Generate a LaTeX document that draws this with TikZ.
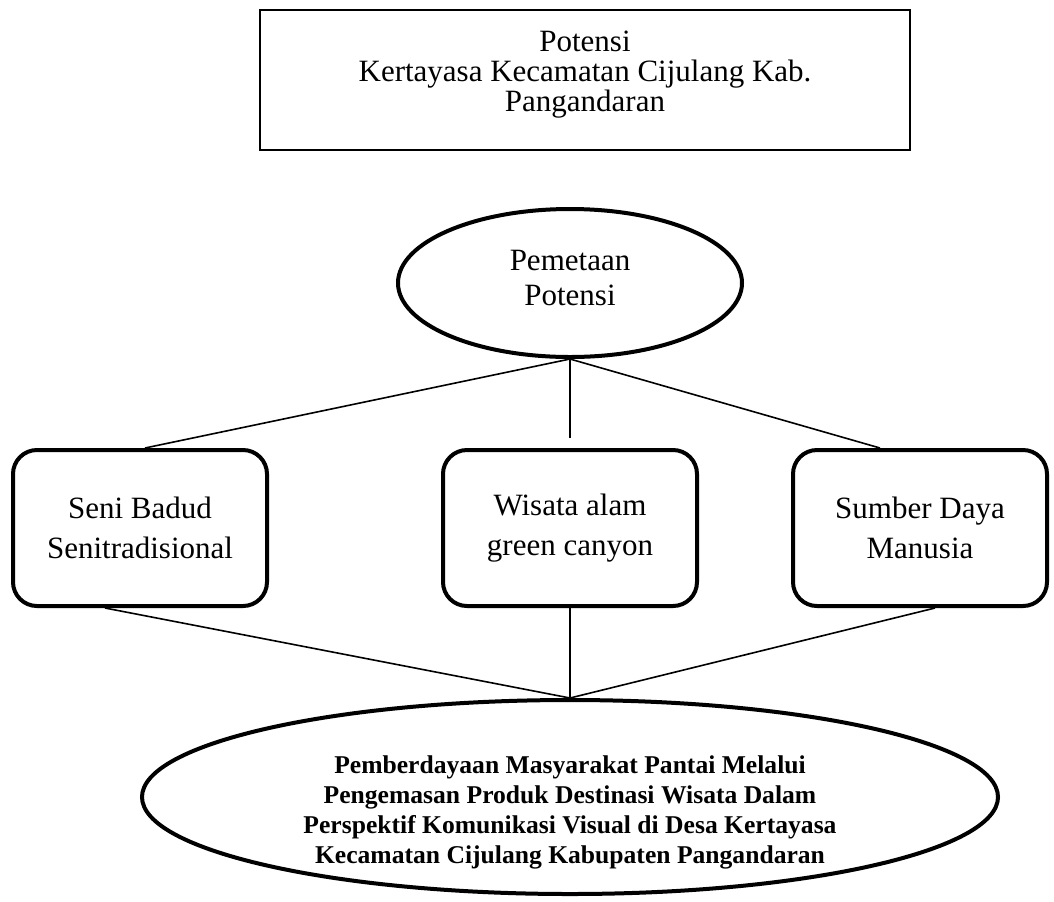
\documentclass[tikz,border=0pt]{standalone}
\usepackage{fontspec}
\setmainfont{Liberation Serif}
\usetikzlibrary{shapes.geometric,positioning}

\begin{document}
\begin{tikzpicture}[x=0.5pt,y=-0.5pt,
        txt/.style={align=center,font=\fontsize{15.5}{#1}\selectfont},
        topbox/.style={txt=15,draw,line width=0.6pt,minimum width=325pt,minimum height=70pt},
        oval/.style={ellipse,draw,line width=2pt,inner sep=0pt},
        itembox/.style={txt=20,draw,line width=2pt,rounded corners=12pt,minimum width=127pt,minimum height=78pt},
        link/.style={line width=0.8pt}]
    \useasboundingbox (0,0) rectangle (1054,901);
    % potensi
    \node[topbox] (potensi) at (585,80) {Potensi\\Kertayasa Kecamatan Cijulang Kab.\\Pangandaran\\[-6pt]\mbox{}};
    \node[oval,txt=17.5,minimum width=172pt,minimum height=74pt] (pemetaan) at (570,283) {Pemetaan\\Potensi\\[-12pt]\mbox{}};
    % three items
    \node[itembox] (seni) at (140,528) {Seni Badud\\Senitradisional};
    \node[itembox] (wisata) at (570,528) {Wisata alam\\green canyon};
    \node[itembox] (sdm) at (920,528) {Sumber Daya\\Manusia};
    \node[oval,minimum width=428pt,minimum height=97pt,
        label={[align=center,font=\fontsize{12.8}{15}\selectfont\bfseries,yshift=-7.5pt]center:{Pemberdayaan Masyarakat Pantai Melalui\\Pengemasan Produk Destinasi Wisata Dalam\\Perspektif Komunikasi Visual di Desa Kertayasa\\Kecamatan Cijulang Kabupaten Pangandaran}}] (hasil) at (570,797) {};
    \coordinate (gap) at (570,438);
    % connectors
    \draw[link] (pemetaan.south) -- ([xshift=2.5pt]seni.north);
    \draw[link] (pemetaan.south) -- (gap);
    \draw[link] (pemetaan.south) -- ([xshift=-20pt]sdm.north);
    \draw[link] ([xshift=-17.5pt]seni.south) -- (hasil.north);
    \draw[link] (wisata.south) -- (hasil.north);
    \draw[link] ([xshift=7.5pt]sdm.south) -- (hasil.north);
\end{tikzpicture}
\end{document}
